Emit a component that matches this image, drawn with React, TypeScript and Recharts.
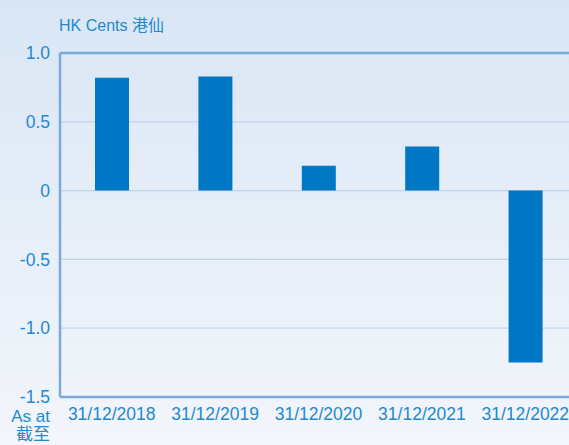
import { BarChart, Bar, XAxis, YAxis, CartesianGrid, ReferenceLine } from 'recharts'

const dates = ['31/12/2018', '31/12/2019', '31/12/2020', '31/12/2021', '31/12/2022']
const cents = [0.82, 0.83, 0.18, 0.32, -1.25]
const yTicks = [-1.5, -1.0, -0.5, 0, 0.5, 1.0]

const TEXT = '#2189cf'
const BAR = '#0077c4'
const FONT = '"Liberation Sans", Arial, "Noto Sans CJK TC", sans-serif'

const data = dates.map((d, i) => ({ date: d, value: cents[i] }))

const fmt = (v: number) => (v === 0 ? '0' : v.toFixed(1))

export default function App() {
  return (
    <div
      style={{
        position: 'absolute', left: 0, top: 0, width: 569, height: 445, overflow: 'hidden',
        background: 'linear-gradient(180deg, #dae6f5 0%, #e6eef8 50%, #f3f6fb 100%)',
        fontFamily: FONT,
      }}
    >
      <div style={{ position: 'absolute', left: 59, top: 12, fontSize: 16, color: TEXT }}>
        HK Cents 港仙
      </div>
      <div
        style={{
          position: 'absolute', right: 519, top: 408, fontSize: 17, lineHeight: '18px',
          color: TEXT, textAlign: 'right', whiteSpace: 'nowrap',
        }}
      >
        As at<br />截至
      </div>
      <BarChart
        width={580}
        height={445}
        data={data}
        margin={{ top: 53, right: 3, left: 0, bottom: 18 }}
        style={{ position: 'absolute', left: 0, top: 0 }}
      >
        <CartesianGrid vertical={false} stroke="#bfd3ec" strokeWidth={1.2} />
        <XAxis
          dataKey="date"
          height={30}
          axisLine={false}
          tickLine={false}
          tickSize={0}
          tickMargin={11}
          interval={0}
          tick={{ fontSize: 17.5, fill: TEXT, fontFamily: FONT }}
        />
        <YAxis
          width={60}
          domain={[-1.5, 1]}
          ticks={yTicks}
          tickFormatter={fmt}
          axisLine={{ stroke: '#7aa9da', strokeWidth: 2.5 }}
          tickLine={false}
          tickSize={0}
          tickMargin={10}
          tick={{ fontSize: 17.5, fill: TEXT, fontFamily: FONT }}
        />
        <ReferenceLine y={1} stroke="#7aa9da" strokeWidth={2.5} />
        <ReferenceLine y={-1.5} stroke="#7aa9da" strokeWidth={2.5} />
        <Bar dataKey="value" fill={BAR} barSize={34} isAnimationActive={false} />
      </BarChart>
    </div>
  )
}
